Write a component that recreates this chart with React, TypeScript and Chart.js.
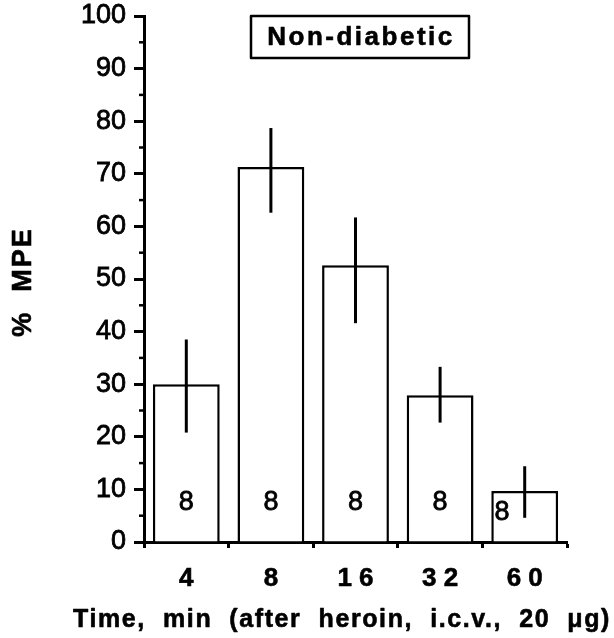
import React, { useEffect, useRef } from "react";
import { Chart, registerables } from "chart.js";

Chart.register(...registerables);

// ---- data ----
const timeLabels = ["4", "8", "1 6", "3 2", "6 0"];
const meanMPE = [30, 71.3, 52.6, 27.9, 9.7];
const errHigh = [38.5, 78.7, 61.7, 33.3, 14.4];
const errLow = [20.8, 62.6, 41.6, 22.7, 4.6];
const nPerGroup = [8, 8, 8, 8, 8];
const yTickValues = [0, 10, 20, 30, 40, 50, 60, 70, 80, 90, 100];
const panelTitle = "Non-diabetic";
const xTitle = "Time,  min  (after  heroin,  i.c.v.,  20  \u03bcg)";
const yTitle = "%  MPE";

const FONT = "'Liberation Sans', Arial, Helvetica, sans-serif";

function heavyText(ctx: CanvasRenderingContext2D, text: string, x: number, y: number, w: number) {
  ctx.fillText(text, x, y);
  ctx.lineWidth = w;
  ctx.strokeText(text, x, y);
}

const overlayPlugin = {
  id: "overlay",
  afterDraw(chart: any) {
    const ctx = chart.ctx as CanvasRenderingContext2D;
    const y = chart.scales.y;
    const area = chart.chartArea;
    ctx.save();
    ctx.strokeStyle = "#000";
    ctx.fillStyle = "#000";
    ctx.lineJoin = "round";

    // minor y ticks at 5s
    ctx.lineWidth = 2.5;
    for (let v = 5; v < 100; v += 10) {
      const py = y.getPixelForValue(v);
      ctx.beginPath();
      ctx.moveTo(area.left - 5, py);
      ctx.lineTo(area.left, py);
      ctx.stroke();
    }

    // error bars
    const meta = chart.getDatasetMeta(0);
    ctx.lineWidth = 3;
    meta.data.forEach((bar: any, i: number) => {
      const px = bar.x;
      ctx.beginPath();
      ctx.moveTo(px, y.getPixelForValue(errHigh[i]));
      ctx.lineTo(px, y.getPixelForValue(errLow[i]));
      ctx.stroke();
    });

    // n labels
    ctx.font = `27px ${FONT}`;
    ctx.textAlign = "center";
    ctx.textBaseline = "middle";
    meta.data.forEach((bar: any, i: number) => {
      const base = 7.7;
      const v = Math.min(base, meanMPE[i] * 0.6);
      let px = bar.x;
      if (errLow[i] < base + 2) {
        px = bar.x - bar.width * 0.34;
      }
      heavyText(ctx, String(nPerGroup[i]), px, y.getPixelForValue(v) + 1, 0.8);
    });

    // panel title box
    ctx.lineWidth = 2.5;
    ctx.strokeRect(251, 16, 218, 42);
    ctx.font = `bold 26px ${FONT}`;
    (ctx as any).letterSpacing = "2.5px";
    ctx.textAlign = "center";
    ctx.textBaseline = "alphabetic";
    heavyText(ctx, panelTitle, 361, 45, 0.6);

    // x title
    ctx.font = `bold 25px ${FONT}`;
    (ctx as any).letterSpacing = "1.6px";
    ctx.textAlign = "center";
    heavyText(ctx, xTitle, 342, 627, 0.6);

    // y title
    ctx.translate(31, 282);
    ctx.rotate(-Math.PI / 2);
    ctx.font = `bold 27px ${FONT}`;
    (ctx as any).letterSpacing = "2px";
    ctx.textAlign = "center";
    ctx.textBaseline = "alphabetic";
    heavyText(ctx, yTitle, 0, 0, 0.6);
    ctx.restore();
  },
};

export default function App() {
  const ref = useRef<HTMLCanvasElement | null>(null);
  useEffect(() => {
    if (!ref.current) return;
    const chart = new Chart(ref.current, {
      type: "bar",
      data: {
        labels: timeLabels,
        datasets: [
          {
            data: meanMPE,
            backgroundColor: "#fff",
            borderColor: "#000",
            borderWidth: 2.5,
            barPercentage: 0.79,
            categoryPercentage: 1,
          },
        ],
      },
      options: {
        animation: false,
        responsive: false,
        maintainAspectRatio: false,
        layout: { padding: { top: 16, right: 47, left: 0, bottom: 0 } },
        plugins: { legend: { display: false }, tooltip: { enabled: false } },
        scales: {
          x: {
            grid: {
              display: true,
              offset: true,
              drawOnChartArea: false,
              drawTicks: true,
              tickLength: 6,
              tickWidth: 3,
              tickColor: "#000",
              color: "#000",
            },
            border: { display: true, color: "#000", width: 3 },
            ticks: {
              font: { family: FONT, size: 26, weight: "bold" },
              color: "#000",
              textStrokeColor: "#000",
              textStrokeWidth: 0.6,
              padding: 15,
              maxRotation: 0,
            },
            afterFit: (s: any) => {
              s.height = 96;
              s.paddingLeft = 0;
              s.paddingRight = 0;
            },
          },
          y: {
            min: 0,
            max: 100,
            afterBuildTicks: (s: any) => {
              s.ticks = yTickValues.map((v) => ({ value: v }));
            },
            grid: {
              display: true,
              drawOnChartArea: false,
              drawTicks: true,
              tickLength: 10,
              tickWidth: 3,
              tickColor: "#000",
              color: "#000",
            },
            border: { display: true, color: "#000", width: 3 },
            ticks: {
              font: { family: FONT, size: 27 },
              color: "#000",
              textStrokeColor: "#000",
              textStrokeWidth: 0.8,
              padding: 8,
            },
            afterFit: (s: any) => {
              s.width = 144;
              s.paddingTop = 0;
              s.paddingBottom = 0;
            },
          },
        },
      },
      plugins: [overlayPlugin],
    });
    return () => chart.destroy();
  }, []);
  return (
    <div style={{ position: "absolute", left: 0, top: 0, width: 614, height: 638, background: "#fff" }}>
      <canvas ref={ref} width={614} height={638} style={{ width: 614, height: 638 }} />
    </div>
  );
}
